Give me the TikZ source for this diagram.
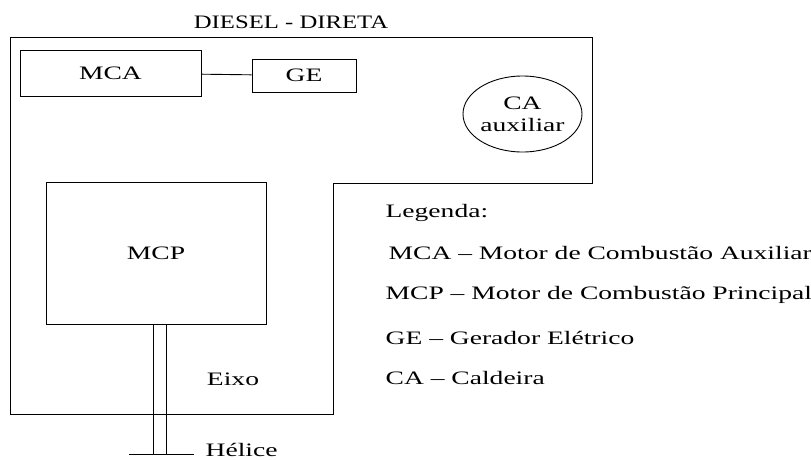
\documentclass[tikz,border=0pt]{standalone}
\usepackage{fontspec}
\setmainfont{Liberation Serif}
\usetikzlibrary{shapes.geometric}
\newcommand{\wide}[1]{\scalebox{1.45}[1]{#1}}
\tikzset{
  unit/.style={draw, rectangle, inner sep=0pt, line width=0.9pt, font=\fontsize{19}{22}\selectfont},
  lbl/.style={inner sep=0pt, xscale=1.45, font=\fontsize{19}{22}\selectfont},
  leg/.style={inner sep=0pt, anchor=west, xscale=1.45, font=\fontsize{19}{22}\selectfont}
}
\begin{document}
\begin{tikzpicture}[x=1pt, y=-1pt, line width=0.9pt]
    \useasboundingbox (0,0) rectangle (811,459);
    \node[lbl, xscale=1.3/1.45] (title) at (291,22){DIESEL - DIRETA};
    % casco
    \draw (10,37) -- (592,37) -- (592,183) -- (333,183) -- (333,414) -- (10,414) -- cycle;
    \node[unit, minimum width=181pt, minimum height=46pt] (mca) at (110.5,73){\wide{MCA}};
    \node[unit, minimum width=104pt, minimum height=33pt] (ge) at (304,75.5){\wide{GE}};
    \draw[](mca) -- (ge);
    \node[unit, ellipse, minimum width=119pt, minimum height=76pt, align=center] (ca) at (522.5,114){\wide{CA}\\\wide{auxiliar}};
    \node[unit, minimum width=220pt, minimum height=142pt] (mcp) at (156,253){\wide{MCP}};
    % eixo e helice
    \coordinate (e1) at (153,454);
    \coordinate (e2) at (166,454);
    \draw (e1 |- mcp.south) -- (e1);
    \draw (e2 |- mcp.south) -- (e2);
    \coordinate (h1) at (129,454);
    \coordinate (h2) at (194,454);
    \draw (h1) -- (h2);
    \node[lbl] (eixo) at (233,379){Eixo};
    \node[lbl, anchor=west] (helice) at (205,450){Hélice};
    % legenda
    \node[leg] (leg0) at (385,213){Legenda:};
    \node[leg] (leg1) at (388,253){MCA -- Motor de Combustão Auxiliar};
    \node[leg] (leg2) at (385,295){MCP -- Motor de Combustão Principal};
    \node[leg] (leg3) at (385,338){GE -- Gerador Elétrico};
    \node[leg] (leg4) at (385,378){CA -- Caldeira};
  \end{tikzpicture}
\end{document}
